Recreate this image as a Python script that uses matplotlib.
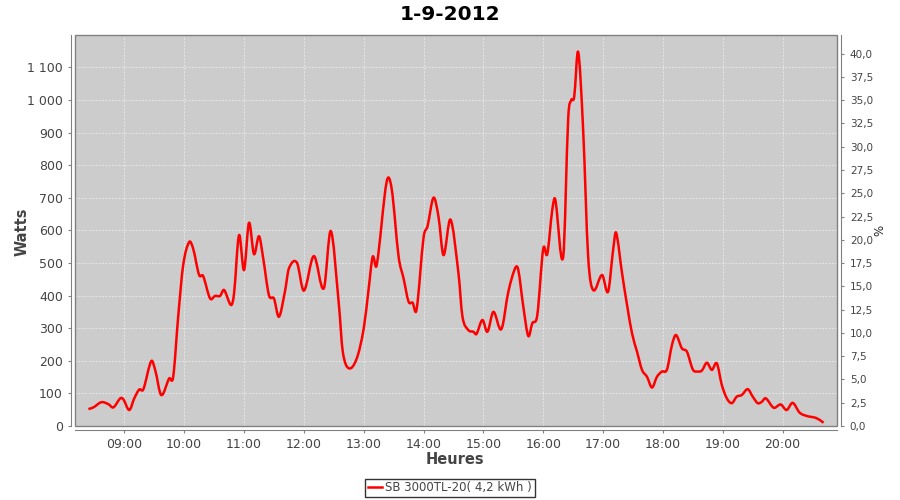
import matplotlib
matplotlib.use('Agg')
import matplotlib.pyplot as plt
from matplotlib.ticker import FixedLocator, FuncFormatter, MultipleLocator
from matplotlib.patches import Rectangle, PathPatch
from matplotlib.path import Path
from matplotlib.lines import Line2D

times = ['08:24', '08:29', '08:37', '08:44', '08:49', '08:56', '08:59', '09:05', '09:10', '09:15',
         '09:19', '09:27', '09:31', '09:37', '09:45', '09:49', '09:54', '09:59', '10:05', '10:09',
         '10:15', '10:19', '10:26', '10:31', '10:36', '10:40', '10:47', '10:50', '10:55', '11:00',
         '11:05', '11:10', '11:15', '11:19', '11:25', '11:30', '11:35', '11:41', '11:45', '11:53',
         '12:00', '12:10', '12:20', '12:27', '12:35', '12:39', '12:45', '12:53', '13:00', '13:05',
         '13:09', '13:13', '13:23', '13:28', '13:35', '13:40', '13:45', '13:49', '13:53', '14:00',
         '14:04', '14:10', '14:15', '14:20', '14:27', '14:35', '14:39', '14:45', '14:50', '14:53',
         '14:59', '15:04', '15:10', '15:18', '15:25', '15:32', '15:35', '15:40', '15:45', '15:49',
         '15:54', '16:00', '16:04', '16:09', '16:12', '16:20', '16:25', '16:28', '16:31', '16:35',
         '16:40', '16:45', '16:50', '16:59', '17:05', '17:10', '17:13', '17:19', '17:24', '17:29',
         '17:34', '17:39', '17:44', '17:49', '17:54', '17:59', '18:04', '18:09', '18:13', '18:19',
         '18:24', '18:30', '18:35', '18:39', '18:44', '18:49', '18:54', '18:59', '19:04', '19:09',
         '19:14', '19:19', '19:25', '19:30', '19:35', '19:39', '19:43', '19:51', '19:58', '20:04',
         '20:10', '20:17', '20:24', '20:34', '20:41']
watts = [52, 57, 73, 67, 57, 85, 82, 49, 85, 112,
         112, 199, 171, 95, 146, 151, 335, 493, 564, 544,
         463, 460, 391, 399, 399, 417, 371, 406, 585, 478,
         623, 527, 582, 519, 401, 391, 335, 412, 483, 501,
         415, 521, 422, 598, 376, 228, 177, 207, 299, 422,
         519, 493, 749, 728, 519, 452, 381, 378, 357, 578,
         613, 700, 641, 524, 633, 468, 335, 294, 289, 282,
         325, 289, 350, 297, 412, 485, 478, 366, 276, 315,
         340, 544, 527, 662, 695, 519, 943, 999, 1009, 1147,
         907, 519, 417, 463, 412, 539, 593, 468, 371, 284,
         228, 172, 151, 118, 151, 167, 173, 248, 279, 238,
         228, 173, 167, 170, 194, 172, 192, 126, 85, 70,
         90, 95, 113, 90, 70, 74, 85, 56, 66, 49,
         71, 41, 31, 24, 10]
hour_ticks = ['09:00', '10:00', '11:00', '12:00', '13:00', '14:00',
              '15:00', '16:00', '17:00', '18:00', '19:00', '20:00']
watt_ticks = [0, 100, 200, 300, 400, 500, 600, 700, 800, 900, 1000, 1100]
series_label = 'SB 3000TL-20( 4,2 kWh )'
title = '1-9-2012'


def to_h(s):
    h, m = s.split(':')
    return int(h) + int(m) / 60.0


x = [to_h(t) for t in times]
xt = [to_h(t) for t in hour_ticks]


def smooth_path(xs, ys):
    """Spline-style rendering (like a spline renderer): cubic Bezier segments through the data points."""
    n = len(xs)
    slopes = []
    for i in range(n):
        if i == 0:
            s = (ys[1] - ys[0]) / (xs[1] - xs[0])
        elif i == n - 1:
            s = (ys[-1] - ys[-2]) / (xs[-1] - xs[-2])
        else:
            s = (ys[i + 1] - ys[i - 1]) / (xs[i + 1] - xs[i - 1])
        slopes.append(s)
    verts = [(xs[0], ys[0])]
    codes = [Path.MOVETO]
    for i in range(n - 1):
        d = xs[i + 1] - xs[i]
        verts += [(xs[i] + d / 3, ys[i] + slopes[i] * d / 3),
                  (xs[i + 1] - d / 3, ys[i + 1] - slopes[i + 1] * d / 3),
                  (xs[i + 1], ys[i + 1])]
        codes += [Path.CURVE4, Path.CURVE4, Path.CURVE4]
    return Path(verts, codes)


plt.rcParams['font.family'] = ['DejaVu Sans']
fig = plt.figure(figsize=(9, 5), dpi=100)
L, R, T, B = 75.3, 837.3, 35, 426
ax = fig.add_axes([L / 900, 1 - B / 500, (R - L) / 900, (B - T) / 500])
ax.set_facecolor('#cccccc')
line_color = '#ff0000'
ax.add_patch(PathPatch(smooth_path(x, watts), facecolor='none', edgecolor=line_color,
                       lw=1.8, joinstyle='round', zorder=3))
ax.set_xlim(8.181, 20.913)
ax.set_ylim(0, 1199)

ax.xaxis.set_major_locator(FixedLocator(xt))
ax.set_xticklabels(hour_ticks)
ax.yaxis.set_major_locator(FixedLocator(watt_ticks))
ax.yaxis.set_major_formatter(FuncFormatter(lambda v, p: f"{int(round(v)):,}".replace(',', ' ')))
ax.grid(True, color='#eeeeee', ls=(0, (2, 2)), lw=0.6, zorder=1)
ax.set_axisbelow(True)

for s in ['top', 'right']:
    ax.spines[s].set_visible(False)
for s in ['left', 'bottom']:
    ax.spines[s].set_position(('outward', 3))
    ax.spines[s].set_color('#808080')
ax.tick_params(axis='both', colors='#808080', labelcolor='#444444', labelsize=9, length=2.5, width=0.8)

ax.add_patch(Rectangle((0, 0), 1, 1, transform=ax.transAxes, fill=False,
                       edgecolor='#808080', lw=1.0, zorder=4, clip_on=False))

ax2 = ax.twinx()
ax2.set_ylim(0, 1199 / 28.55)
ax2.yaxis.set_major_locator(MultipleLocator(2.5))
ax2.yaxis.set_major_formatter(FuncFormatter(lambda v, p: f"{v:.1f}".replace('.', ',')))
for s in ['top', 'left', 'bottom']:
    ax2.spines[s].set_visible(False)
ax2.spines['right'].set_position(('outward', 3))
ax2.spines['right'].set_color('#808080')
ax2.tick_params(axis='y', colors='#808080', labelcolor='#444444', labelsize=7.5, length=2.5, width=0.8)

fig.text(0.5, 1 - 14 / 500, title, ha='center', va='center', fontsize=14.5, weight='bold')
fig.text(22 / 900, 1 - 232 / 500, 'Watts', ha='center', va='center', rotation=90,
         fontsize=10.5, weight='bold', color='#444444')
fig.text(455 / 900, 1 - 459 / 500, 'Heures', ha='center', va='center',
         fontsize=10.5, weight='bold', color='#444444')
fig.text(880 / 900, 1 - 230 / 500, '%', ha='center', va='center', rotation=90,
         fontsize=8.5, color='#222222')

handle = Line2D([], [], color=line_color, lw=1.8)
leg = fig.legend([handle], [series_label], loc='center', bbox_to_anchor=(450 / 900, 1 - 488 / 500),
                 frameon=True, fancybox=False, edgecolor='black', fontsize=8.5, handlelength=1.2,
                 handletextpad=0.3, borderpad=0.25, labelcolor='#444444')
leg.get_frame().set_linewidth(1.0)

fig.savefig('out.png', dpi=100)
